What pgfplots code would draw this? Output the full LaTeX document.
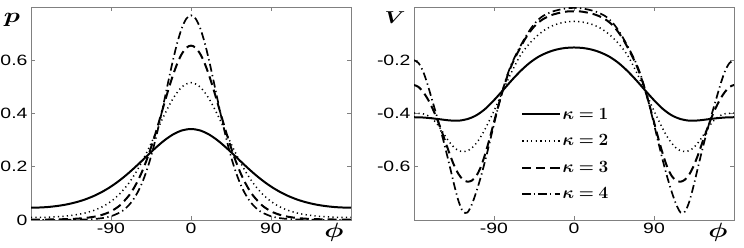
\documentclass[border=0pt]{standalone}
\usepackage{graphicx}
\usepackage{bm}
\usepackage{fontspec}
\usepackage{pgfplots}
\pgfplotsset{compat=1.18}
\newfontfamily\arialf{Liberation Sans}
\newcommand\hs[1]{\scalebox{1.3}[1]{#1}}
\pgfplotsset{
  panel/.style={
    scale only axis, width=320bp, height=213bp, anchor=south west,
    xmin=-180, xmax=180, xtick={-90,0,90}, xticklabels={\hs{-90},\hs{0},\hs{90}},
    tick align=inside, xtick pos=both, ytick pos=both,
    xticklabel pos=bottom, yticklabel pos=left,
    major tick length=4bp,
    axis line style={draw=black!50, line width=0.7pt},
    every tick/.style={black!50, line width=0.7pt},
    tick label style={font=\arialf\fontsize{15}{15}\selectfont},
    clip=true,
  },
  k1/.style={black, line width=2pt},
  k2/.style={black, line width=1.5pt, dash pattern=on 1.2pt off 3.3pt},
  k3/.style={black, line width=2pt, dash pattern=on 9pt off 5pt},
  k4/.style={black, line width=1.7pt, dash pattern=on 8pt off 3.5pt on 1.3pt off 3.5pt},
}
\begin{document}
\begin{tikzpicture}
\useasboundingbox (0,0) rectangle (744bp,248bp);
% ---------------- left panel ----------------
\begin{axis}[panel, at={(31bp,28bp)},
  ymin=0, ymax=0.8, ytick={0,0.2,0.4,0.6}, yticklabels={\hs{0},\hs{0.2},\hs{0.4},\hs{0.6}}]
\addplot[k1, smooth] coordinates {(-180,0.0462)(-170,0.0470)(-160,0.0491)(-150,0.0529)(-140,0.0584)(-130,0.0661)(-120,0.0762)(-110,0.0893)(-100,0.1057)(-90,0.1257)(-80,0.1495)(-70,0.1770)(-60,0.2073)(-50,0.2391)(-40,0.2704)(-30,0.2989)(-20,0.3217)(-10,0.3366)(0,0.3417)(10,0.3366)(20,0.3217)(30,0.2989)(40,0.2704)(50,0.2391)(60,0.2073)(70,0.1770)(80,0.1495)(90,0.1257)(100,0.1057)(110,0.0893)(120,0.0762)(130,0.0661)(140,0.0584)(150,0.0529)(160,0.0491)(170,0.0470)(180,0.0462)};
\addplot[k2, smooth] coordinates {(-180,0.0094)(-170,0.0097)(-160,0.0107)(-150,0.0124)(-140,0.0151)(-130,0.0193)(-120,0.0257)(-110,0.0352)(-100,0.0493)(-90,0.0698)(-80,0.0988)(-70,0.1384)(-60,0.1898)(-50,0.2525)(-40,0.3231)(-30,0.3946)(-20,0.4573)(-10,0.5005)(0,0.5159)(10,0.5005)(20,0.4573)(30,0.3946)(40,0.3231)(50,0.2525)(60,0.1898)(70,0.1384)(80,0.0988)(90,0.0698)(100,0.0493)(110,0.0352)(120,0.0257)(130,0.0193)(140,0.0151)(150,0.0124)(160,0.0107)(170,0.0097)(180,0.0094)};
\addplot[k3, smooth] coordinates {(-180,0.0016)(-170,0.0017)(-160,0.0019)(-150,0.0024)(-140,0.0033)(-130,0.0047)(-120,0.0073)(-110,0.0117)(-100,0.0194)(-90,0.0326)(-80,0.0549)(-70,0.0910)(-65,0.1159)(-60,0.1461)(-55,0.1822)(-50,0.2243)(-45,0.2720)(-40,0.3246)(-35,0.3807)(-30,0.4382)(-25,0.4945)(-20,0.5466)(-15,0.5913)(-10,0.6258)(-5,0.6475)(0,0.6550)(5,0.6475)(10,0.6258)(15,0.5913)(20,0.5466)(25,0.4945)(30,0.4382)(35,0.3807)(40,0.3246)(45,0.2720)(50,0.2243)(55,0.1822)(60,0.1461)(65,0.1159)(70,0.0910)(80,0.0549)(90,0.0326)(100,0.0194)(110,0.0117)(120,0.0073)(130,0.0047)(140,0.0033)(150,0.0024)(160,0.0019)(170,0.0017)(180,0.0016)};
\addplot[k4, smooth] coordinates {(-180,0.0003)(-170,0.0003)(-160,0.0003)(-150,0.0004)(-140,0.0007)(-130,0.0011)(-120,0.0019)(-110,0.0036)(-100,0.0070)(-90,0.0141)(-80,0.0282)(-75,0.0397)(-70,0.0553)(-65,0.0764)(-60,0.1041)(-55,0.1397)(-50,0.1842)(-45,0.2382)(-40,0.3016)(-35,0.3730)(-30,0.4499)(-25,0.5286)(-20,0.6041)(-15,0.6709)(-10,0.7235)(-5,0.7572)(0,0.7689)(5,0.7572)(10,0.7235)(15,0.6709)(20,0.6041)(25,0.5286)(30,0.4499)(35,0.3730)(40,0.3016)(45,0.2382)(50,0.1842)(55,0.1397)(60,0.1041)(65,0.0764)(70,0.0553)(75,0.0397)(80,0.0282)(90,0.0141)(100,0.0070)(110,0.0036)(120,0.0019)(130,0.0011)(140,0.0007)(150,0.0004)(160,0.0003)(170,0.0003)(180,0.0003)};
\end{axis}
% ---------------- right panel ----------------
\begin{axis}[panel, at={(414bp,28bp)},
  ymin=-0.8, ymax=0, ytick={-0.6,-0.4,-0.2}, yticklabels={\hs{-0.6},\hs{-0.4},\hs{-0.2}},
  legend style={draw=none, fill=none, at={(0.325,0.545)}, anchor=north west,
    font=\fontsize{18}{18}\selectfont, row sep=10bp},
  legend image post style={xscale=2.2},
  legend cell align=left]
\addplot[k1, smooth] coordinates {(-180,-0.414)(-170,-0.415)(-160,-0.418)(-150,-0.422)(-140,-0.426)(-130,-0.427)(-120,-0.421)(-110,-0.407)(-100,-0.383)(-90,-0.350)(-80,-0.313)(-70,-0.275)(-60,-0.240)(-50,-0.210)(-40,-0.187)(-30,-0.171)(-20,-0.160)(-10,-0.154)(0,-0.152)(10,-0.154)(20,-0.160)(30,-0.171)(40,-0.187)(50,-0.210)(60,-0.240)(70,-0.275)(80,-0.313)(90,-0.350)(100,-0.383)(110,-0.407)(120,-0.421)(130,-0.427)(140,-0.426)(150,-0.422)(160,-0.418)(170,-0.415)(180,-0.414)};
\addlegendentry{$\bm{\kappa}\bm{=}\bm{1}$}
\addplot[k2, smooth] coordinates {(-180,-0.398)(-170,-0.401)(-165,-0.407)(-160,-0.418)(-155,-0.435)(-150,-0.458)(-145,-0.484)(-140,-0.508)(-135,-0.527)(-130,-0.539)(-125,-0.543)(-120,-0.540)(-115,-0.530)(-110,-0.512)(-105,-0.488)(-100,-0.458)(-90,-0.390)(-80,-0.315)(-70,-0.243)(-60,-0.180)(-50,-0.137)(-40,-0.104)(-30,-0.080)(-20,-0.065)(-10,-0.057)(0,-0.054)(10,-0.057)(20,-0.065)(30,-0.080)(40,-0.104)(50,-0.137)(60,-0.180)(70,-0.243)(80,-0.315)(90,-0.390)(100,-0.458)(105,-0.488)(110,-0.512)(115,-0.530)(120,-0.540)(125,-0.543)(130,-0.539)(135,-0.527)(140,-0.508)(145,-0.484)(150,-0.458)(155,-0.435)(160,-0.418)(165,-0.407)(170,-0.401)(180,-0.398)};
\addlegendentry{$\bm{\kappa}\bm{=}\bm{2}$}
\addplot[k3, smooth] coordinates {(-180,-0.293)(-175,-0.300)(-170,-0.318)(-165,-0.343)(-160,-0.375)(-155,-0.413)(-150,-0.456)(-145,-0.503)(-140,-0.551)(-135,-0.594)(-130,-0.627)(-125,-0.648)(-120,-0.656)(-115,-0.652)(-110,-0.635)(-105,-0.602)(-100,-0.553)(-95,-0.495)(-90,-0.432)(-85,-0.370)(-80,-0.312)(-75,-0.260)(-70,-0.217)(-65,-0.182)(-60,-0.150)(-55,-0.120)(-50,-0.095)(-45,-0.074)(-40,-0.058)(-35,-0.046)(-30,-0.037)(-25,-0.030)(-20,-0.025)(-15,-0.021)(-10,-0.018)(-5,-0.016)(0,-0.016)(5,-0.016)(10,-0.018)(15,-0.021)(20,-0.025)(25,-0.030)(30,-0.037)(35,-0.046)(40,-0.058)(45,-0.074)(50,-0.095)(55,-0.120)(60,-0.150)(65,-0.182)(70,-0.217)(75,-0.260)(80,-0.312)(85,-0.370)(90,-0.432)(95,-0.495)(100,-0.553)(105,-0.602)(110,-0.635)(115,-0.652)(120,-0.656)(125,-0.648)(130,-0.627)(135,-0.594)(140,-0.551)(145,-0.503)(150,-0.456)(155,-0.413)(160,-0.375)(165,-0.343)(170,-0.318)(175,-0.300)(180,-0.293)};
\addlegendentry{$\bm{\kappa}\bm{=}\bm{3}$}
\addplot[k4, smooth] coordinates {(-180,-0.200)(-175,-0.210)(-170,-0.240)(-165,-0.288)(-160,-0.345)(-155,-0.402)(-150,-0.462)(-145,-0.527)(-140,-0.595)(-135,-0.665)(-130,-0.728)(-125,-0.768)(-120,-0.772)(-115,-0.742)(-110,-0.695)(-105,-0.640)(-100,-0.578)(-95,-0.510)(-90,-0.440)(-85,-0.372)(-80,-0.310)(-75,-0.255)(-70,-0.212)(-65,-0.177)(-60,-0.145)(-55,-0.115)(-50,-0.088)(-45,-0.065)(-40,-0.047)(-35,-0.034)(-30,-0.025)(-25,-0.018)(-20,-0.013)(-15,-0.009)(-10,-0.006)(-5,-0.004)(0,-0.003)(5,-0.004)(10,-0.006)(15,-0.009)(20,-0.013)(25,-0.018)(30,-0.025)(35,-0.034)(40,-0.047)(45,-0.065)(50,-0.088)(55,-0.115)(60,-0.145)(65,-0.177)(70,-0.212)(75,-0.255)(80,-0.310)(85,-0.372)(90,-0.440)(95,-0.510)(100,-0.578)(105,-0.640)(110,-0.695)(115,-0.742)(120,-0.772)(125,-0.768)(130,-0.728)(135,-0.665)(140,-0.595)(145,-0.527)(150,-0.462)(155,-0.402)(160,-0.345)(165,-0.288)(170,-0.240)(175,-0.210)(180,-0.200)};
\addlegendentry{$\bm{\kappa}\bm{=}\bm{4}$}
\end{axis}
% ---------------- axis names ----------------
\node at (12bp,228bp) {\fontsize{21}{21}\selectfont\hs{$\bm{p}$}};
\node at (395bp,230bp) {\fontsize{18}{18}\selectfont\hs{$\bm{V}$}};
\node at (334bp,16bp) {\fontsize{21}{21}\selectfont\hs{$\bm{\phi}$}};
\node at (718bp,16bp) {\fontsize{21}{21}\selectfont\hs{$\bm{\phi}$}};
\end{tikzpicture}
\end{document}
